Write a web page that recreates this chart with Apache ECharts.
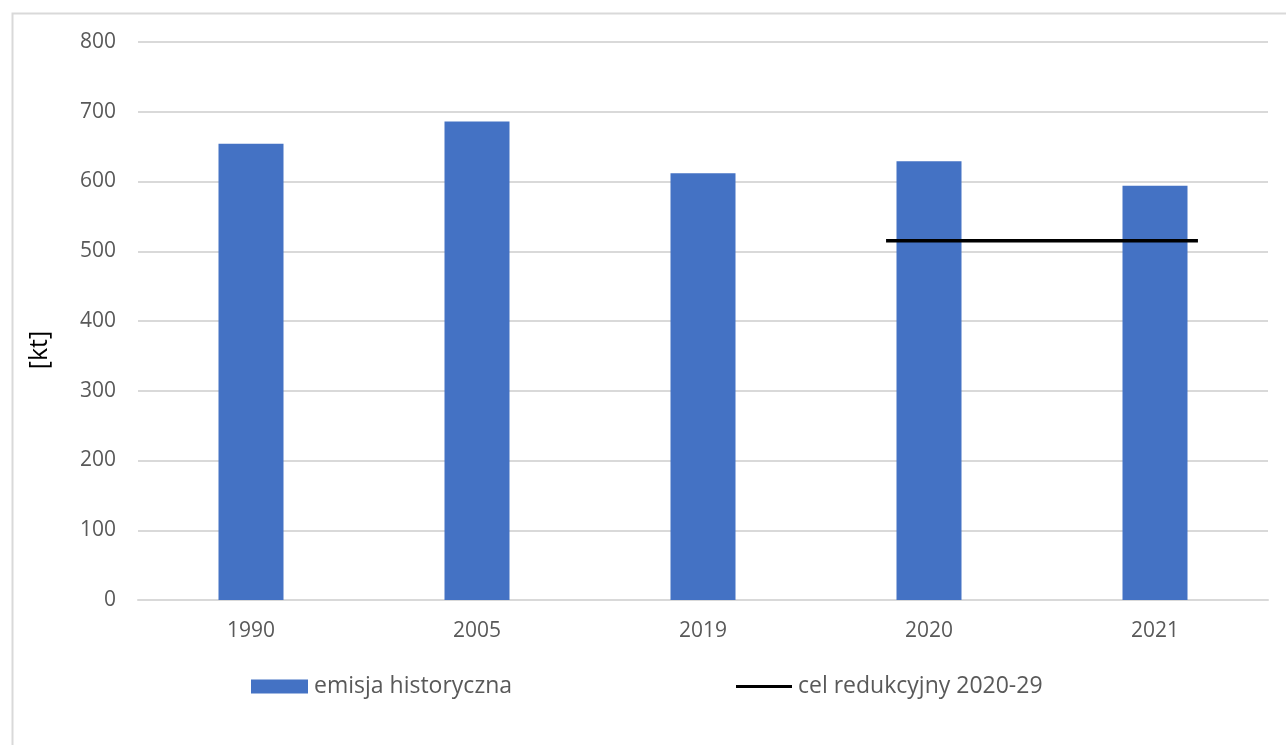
<!DOCTYPE html>
<html>
<head>
<meta charset="utf-8">
<title>Emisja historyczna i cel redukcyjny</title>
<script src="https://cdn.jsdelivr.net/npm/echarts@6/dist/echarts.min.js"></script>
<style>
  html, body { margin: 0; padding: 0; background: #ffffff; }
  #chart { width: 1286px; height: 745px; }
</style>
</head>
<body>
<div id="chart"></div>
<script>
// Emission data [kt]
const years = ['1990', '2005', '2019', '2020', '2021'];
const emissions = [654, 686, 612, 629, 594];

// Reduction target 2020-29 [kt] and the years it covers
const targetValue = 515;
const targetYears = ['2020', '2021'];

const yTicks = [0, 100, 200, 300, 400, 500, 600, 700, 800];

const seriesNames = ['emisja historyczna', 'cel redukcyjny 2020-29'];
const unitLabel = '[kt]';

// How far the target line reaches past the centres of its first and last year (category units)
const TARGET_OVERHANG = 0.19;

const FONT = '"Open Sans", "Liberation Sans", sans-serif';
const TEXT = '#595959';
const GRID = '#d9d9d9';
const BAR = '#4472C4';

const firstIdx = years.indexOf(targetYears[0]);
const lastIdx = years.indexOf(targetYears[targetYears.length - 1]);
const targetLine = [
  [firstIdx - TARGET_OVERHANG, targetValue],
  [lastIdx + TARGET_OVERHANG, targetValue]
];

const chart = echarts.init(document.getElementById('chart'), null, { renderer: 'canvas' });

chart.setOption({
  backgroundColor: '#ffffff',
  animation: false,
  textStyle: { fontFamily: FONT },
  graphic: [
    {
      type: 'rect',
      left: 10, top: 11,
      shape: { x: 0, y: 0, width: 1400, height: 900 },
      style: { fill: 'none', stroke: GRID, lineWidth: 2 },
      silent: true,
      z: -1
    },
    {
      // unit label of the value axis
      type: 'text',
      x: 40, y: 350,
      rotation: Math.PI / 2,
      style: {
        text: unitLabel,
        fill: '#000000',
        font: '25px ' + FONT,
        textAlign: 'center',
        textVerticalAlign: 'middle'
      },
      silent: true
    }
  ],
  grid: { left: 138, right: 18, top: 42, bottom: 145, containLabel: false },
  legend: [
    {
      data: [{ name: seriesNames[0], icon: 'rect' }],
      left: 251, top: 675, padding: 0,
      itemWidth: 57, itemHeight: 14, itemGap: 6,
      textStyle: { color: TEXT, fontSize: 23, fontFamily: FONT, padding: [0, 0, 0, 1] }
    },
    {
      data: [{ name: seriesNames[1], icon: 'rect' }],
      left: 736, top: 675, padding: 0,
      itemWidth: 56, itemHeight: 3, itemGap: 6,
      itemStyle: { color: '#000000' },
      textStyle: { color: TEXT, fontSize: 23, fontFamily: FONT, padding: [0, 0, 0, 1] }
    }
  ],
  xAxis: [
    {
      type: 'category',
      data: years,
      boundaryGap: true,
      axisLine: { show: true, lineStyle: { color: GRID, width: 2 } },
      axisTick: { show: false },
      axisLabel: { color: TEXT, fontSize: 21, margin: 21, fontFamily: FONT },
      splitLine: { show: false }
    },
    {
      type: 'value',
      min: -0.5, max: years.length - 0.5,
      show: false,
      position: 'bottom'
    }
  ],
  yAxis: {
    type: 'value',
    min: yTicks[0],
    max: yTicks[yTicks.length - 1],
    interval: yTicks[1] - yTicks[0],
    axisLine: { show: false },
    axisTick: { show: false },
    axisLabel: { color: TEXT, fontSize: 21, margin: 22, fontFamily: FONT },
    splitLine: { lineStyle: { color: GRID, width: 2 } }
  },
  series: [
    {
      name: seriesNames[0],
      type: 'bar',
      xAxisIndex: 0,
      data: emissions,
      barWidth: 65,
      itemStyle: { color: BAR },
      z: 2
    },
    {
      name: seriesNames[1],
      type: 'line',
      xAxisIndex: 1,
      data: targetLine,
      symbol: 'none',
      lineStyle: { color: '#000000', width: 3.5 },
      itemStyle: { color: '#000000' },
      z: 3
    }
  ]
});
</script>
</body>
</html>
